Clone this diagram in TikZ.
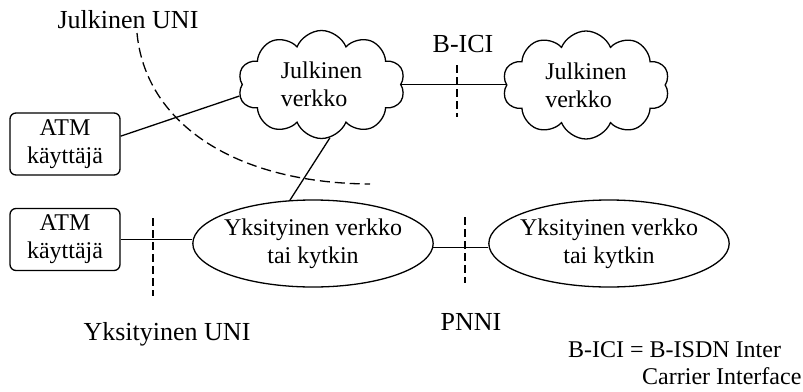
\documentclass[tikz,border=0pt]{standalone}
\usepackage{fontspec}
\setmainfont{Liberation Serif}
\usetikzlibrary{shapes.symbols,shapes.geometric}
\tikzset{
  lbl/.style={anchor=base,font=\fontsize{26}{30}\selectfont},
  nodetext/.style={font=\fontsize{24}{28}\selectfont},
  userbox/.style={nodetext,draw,line width=1.3pt,rounded corners=6pt,minimum width=110pt,minimum height=62pt,align=center,inner sep=0pt},
  netcloud/.style={nodetext,draw,line width=1.3pt,cloud,cloud puffs=10,cloud puff arc=135,cloud ignores aspect,minimum width=167pt,minimum height=108pt,align=left,inner sep=0pt},
  privnet/.style={nodetext,draw,line width=1.3pt,ellipse,minimum width=240pt,minimum height=87pt,align=center,inner xsep=-4pt,inner ysep=0pt},
  conn/.style={line width=1.3pt},
  ifmark/.style={line width=1.8pt,dash pattern=on 8pt off 4pt},
  bound/.style={line width=1.3pt,dash pattern=on 10pt off 5pt},
}
\begin{document}
\begin{tikzpicture}[x=1pt,y=-1pt]
\useasboundingbox (0,0) rectangle (803,391);
% nodes
\node[netcloud] (cloud1) at (321.5,84.5) {Julkinen\\verkko};
\node[netcloud] (cloud2) at (586,85) {Julkinen\\verkko};
\node[userbox] (atm1) at (65,144) {ATM\\käyttäjä};
\node[userbox] (atm2) at (65,239.5) {ATM\\käyttäjä};
\node[privnet] (ell1) at (313,243.5) {Yksityinen verkko\\tai kytkin};
\node[privnet] (ell2) at (609,243.5) {Yksityinen verkko\\tai kytkin};
% labels
\node[lbl] (lpuni) at (128,28) {Julkinen UNI};
\node[lbl] (lbici) at (463,52) {B-ICI};
\node[lbl] (lyuni) at (167,340) {Yksityinen UNI};
\node[lbl] (lpnni) at (471,330) {PNNI};
\node[nodetext,anchor=base west,inner sep=0pt] (fn1) at (568,357) {B-ICI = B-ISDN Inter};
\node[nodetext,anchor=base west,inner sep=0pt] (fn2) at (642,384) {Carrier Interface};
% connectors
\draw[conn] (atm1.8) -- (cloud1.188);
\draw[conn] (cloud1.-81) -- (ell1.118);
\draw[conn] (cloud1.east) -- (cloud1.east -| cloud2.west);
\draw[conn] (atm2.east) -- (atm2.east -| ell1.west);
\draw[conn] (ell1.-2) -- (ell1.-2 -| ell2.west);
% interface marks
\draw[bound] (137,33) .. controls (145,120) and (230,183) .. (370,184);
\draw[ifmark] (457,65) -- (457,117);
\draw[ifmark] (153,218) -- (153,296);
\draw[ifmark] (465,217) -- (465,283);
\end{tikzpicture}
\end{document}
